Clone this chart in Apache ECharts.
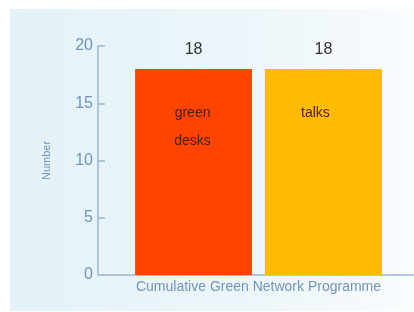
<!DOCTYPE html>
<html>
<head>
<meta charset="utf-8">
<script src="https://cdn.jsdelivr.net/npm/echarts@6/dist/echarts.min.js"></script>
<style>
  html, body { margin: 0; padding: 0; background: #ffffff; }
  #main { width: 414px; height: 312px; }
</style>
</head>
<body>
<div id="main"></div>
<script>
// chart data
var categories = ['Cumulative Green Network Programme'];
var seriesNames = ['green\ndesks', 'talks'];
var greenDesks = [18];
var talks = [18];
var yTicks = [0, 5, 10, 15, 20];

var chart = echarts.init(document.getElementById('main'), null, { renderer: 'canvas' });

var axisColor = '#7393bb';
var lineColor = '#9db5d0';

// caption placed inside a bar, just under its top
function caption(text, dx, dy) {
  return {
    data: [{ type: 'max' }],
    symbol: 'rect',
    symbolSize: 1,
    itemStyle: { color: 'transparent' },
    silent: true,
    label: {
      show: true,
      position: 'inside',
      offset: [dx, dy],
      formatter: text,
      color: '#4a1e08',
      fontFamily: 'Liberation Sans',
      fontSize: 14,
      lineHeight: 28
    }
  };
}

var option = {
  animation: false,
  backgroundColor: '#ffffff',
  graphic: [{
    type: 'rect',
    z: -10,
    shape: { x: 10, y: 9, width: 404, height: 302 },
    style: {
      fill: new echarts.graphic.LinearGradient(0, 0, 1, 0, [
        { offset: 0, color: '#e3f2f8' },
        { offset: 0.6, color: '#edf6fa' },
        { offset: 1, color: '#f8fcfd' }
      ])
    }
  }],
  grid: { left: 103, top: 46, width: 311, bottom: 37 },
  xAxis: {
    type: 'category',
    data: categories,
    axisLine: { lineStyle: { color: lineColor, width: 1.5 } },
    axisTick: { show: false },
    axisLabel: {
      color: axisColor,
      fontFamily: 'Liberation Sans',
      fontSize: 14,
      margin: 5
    }
  },
  yAxis: {
    type: 'value',
    min: yTicks[0],
    max: yTicks[yTicks.length - 1],
    interval: 5,
    offset: 5,
    name: 'Number',
    nameLocation: 'middle',
    nameGap: 46,
    nameTextStyle: { color: axisColor, fontFamily: 'Liberation Sans', fontSize: 11 },
    axisLine: { show: true, lineStyle: { color: lineColor, width: 1.5 } },
    axisTick: { show: true, inside: true, length: 7, lineStyle: { color: lineColor, width: 1.5 } },
    splitLine: { show: false },
    axisLabel: {
      color: axisColor,
      fontFamily: 'Liberation Sans',
      fontSize: 16,
      margin: 5
    }
  },
  series: [{
    name: seriesNames[0],
    type: 'bar',
    data: greenDesks,
    barWidth: 117,
    barGap: '11%',
    itemStyle: { color: '#ff4400' },
    label: {
      show: true,
      position: 'top',
      distance: 11,
      color: '#333333',
      fontFamily: 'Liberation Sans',
      fontSize: 16
    },
    markPoint: caption(seriesNames[0], -1, 58)
  }, {
    name: seriesNames[1],
    type: 'bar',
    data: talks,
    barWidth: 117,
    itemStyle: { color: '#ffbb00' },
    label: {
      show: true,
      position: 'top',
      distance: 11,
      color: '#333333',
      fontFamily: 'Liberation Sans',
      fontSize: 16
    },
    markPoint: caption(seriesNames[1], -8, 44)
  }]
};

chart.setOption(option);
</script>
</body>
</html>
